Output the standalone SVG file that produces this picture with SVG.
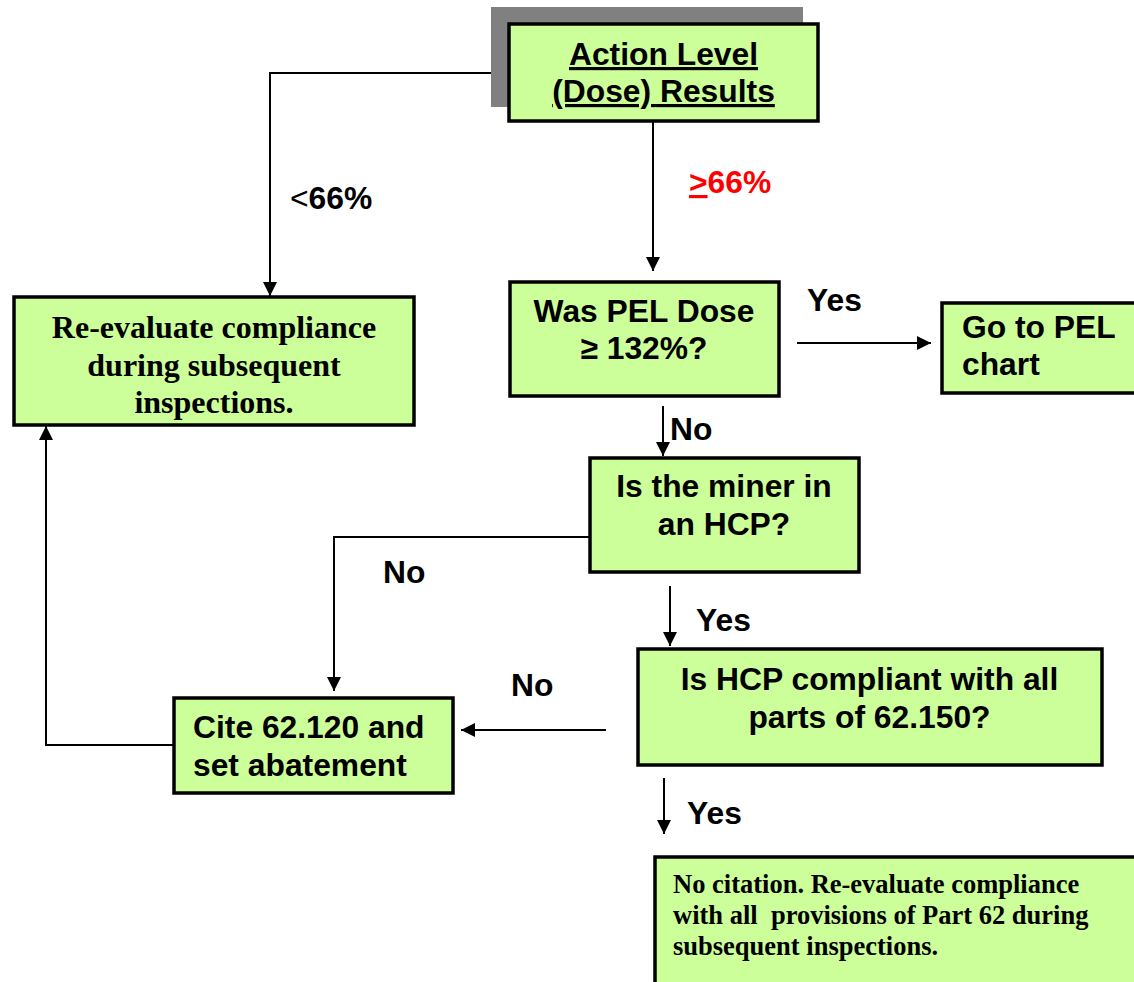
<svg xmlns="http://www.w3.org/2000/svg" width="1134" height="982" viewBox="0 0 1134 982">
<style>
.box{fill:#CCFF99;stroke:#000;stroke-width:3.5}
.a{font-family:"Liberation Sans",Arial,sans-serif;font-weight:bold;font-size:31.8px;fill:#000}
.t{font-family:"Liberation Serif","Times New Roman",serif;font-weight:bold;fill:#000}
.c{text-anchor:middle}
.ln{fill:none;stroke:#000;stroke-width:2}
</style>
<defs>
<marker id="ah" markerUnits="userSpaceOnUse" markerWidth="16" markerHeight="16" refX="14" refY="7" orient="auto">
<path d="M0,0 L14,7 L0,14 z" fill="#000"/>
</marker>
</defs>
<rect width="1134" height="982" fill="#fff"/>
<g id="connectors">
<polyline class="ln" points="491,73 270,73 270,296" marker-end="url(#ah)"/>
<line class="ln" x1="653" y1="122" x2="653" y2="271" marker-end="url(#ah)"/>
<line class="ln" x1="797" y1="343" x2="931" y2="343" marker-end="url(#ah)"/>
<line class="ln" x1="663" y1="406" x2="663" y2="456" marker-end="url(#ah)"/>
<polyline class="ln" points="589,537 334,537 334,691" marker-end="url(#ah)"/>
<line class="ln" x1="670" y1="586" x2="670" y2="646" marker-end="url(#ah)"/>
<line class="ln" x1="606" y1="730" x2="461" y2="730" marker-end="url(#ah)"/>
<polyline class="ln" points="173,745 46,745 46,426" marker-end="url(#ah)"/>
<line class="ln" x1="664" y1="778" x2="664" y2="834" marker-end="url(#ah)"/>
</g>
<g id="labels">
<text class="a" x="290" y="209"><tspan font-weight="normal">&lt;</tspan>66%</text>
<text class="a" x="689" y="193" fill="#FF0000" style="fill:#FF0000"><tspan text-decoration="underline">&gt;</tspan>66%</text>
<text class="a" x="807" y="311">Yes</text>
<text class="a" x="670" y="440">No</text>
<text class="a" x="383" y="583">No</text>
<text class="a" x="696" y="631">Yes</text>
<text class="a" x="511" y="696">No</text>
<text class="a" x="687" y="824">Yes</text>
</g>
<g id="n-action">
<rect x="491" y="7" width="312" height="100" fill="#808080"/>
<rect class="box" x="509" y="24" width="309" height="97"/>
<text class="a c" x="663.5" y="65" text-decoration="underline">Action Level</text>
<text class="a c" x="663.5" y="102" text-decoration="underline">(Dose) Results</text>
</g>
<g id="n-reeval">
<rect class="box" x="14" y="297" width="400" height="128"/>
<text class="t c" font-size="32" x="214" y="338">Re-evaluate compliance</text>
<text class="t c" font-size="32" x="214" y="376">during subsequent</text>
<text class="t c" font-size="32" x="214" y="413">inspections.</text>
</g>
<g id="n-pel">
<rect class="box" x="510" y="282" width="269" height="114"/>
<text class="a c" x="644" y="322">Was PEL Dose</text>
<text class="a c" x="644" y="359">≥ 132%?</text>
</g>
<g id="n-gotopel">
<rect class="box" x="942" y="303" width="200" height="90"/>
<text class="a" x="962" y="338">Go to PEL</text>
<text class="a" x="962" y="375">chart</text>
</g>
<g id="n-miner">
<rect class="box" x="590" y="458" width="269" height="114"/>
<text class="a c" x="724" y="497">Is the miner in</text>
<text class="a c" x="724" y="535">an HCP?</text>
</g>
<g id="n-hcp">
<rect class="box" x="638" y="649" width="464" height="116"/>
<text class="a c" x="869.5" y="690">Is HCP compliant with all</text>
<text class="a c" x="869.5" y="728">parts of 62.150?</text>
</g>
<g id="n-cite">
<rect class="box" x="174" y="698" width="279" height="95"/>
<text class="a" x="193" y="738">Cite 62.120 and</text>
<text class="a" x="193" y="776">set abatement</text>
</g>
<g id="n-nocite">
<rect class="box" x="655" y="857" width="490" height="140"/>
<text class="t" font-size="26.5" x="673" y="893">No citation. Re-evaluate compliance</text>
<text class="t" font-size="26.5" x="673" y="924" xml:space="preserve">with all  provisions of Part 62 during</text>
<text class="t" font-size="26.5" x="673" y="955">subsequent inspections.</text>
</g>
</svg>
